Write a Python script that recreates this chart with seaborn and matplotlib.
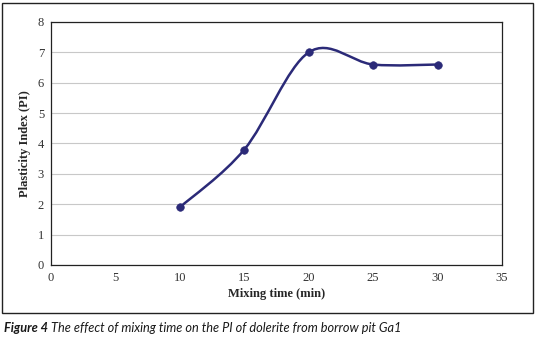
import numpy as np
import pandas as pd
import seaborn as sns
import matplotlib.pyplot as plt
from matplotlib.path import Path
from matplotlib.patches import PathPatch, Rectangle

mixing_time = [10, 15, 20, 25, 30]
plasticity_index = [1.9, 3.8, 7.0, 6.6, 6.6]
x_ticks = [0, 5, 10, 15, 20, 25, 30, 35]
y_ticks = [0, 1, 2, 3, 4, 5, 6, 7, 8]

navy = "#2b2a78"

sns.set_style("white")
plt.rcParams["font.family"] = ["Liberation Serif", "DejaVu Serif"]

df = pd.DataFrame({"time": mixing_time, "pi": plasticity_index})

fig = plt.figure(figsize=(5.35, 3.41), dpi=100)
ax = fig.add_axes([0.0953, 0.2229, 0.8430, 0.7126])

# Excel-style smoothed line: cubic Bezier segments through the data points
pts = df[["time", "pi"]].to_numpy(dtype=float)
verts = [pts[0]]
codes = [Path.MOVETO]
for i in range(len(pts) - 1):
    p_prev = pts[i - 1] if i > 0 else pts[i]
    p_next2 = pts[i + 2] if i + 2 < len(pts) else pts[i + 1]
    c1 = pts[i] + (pts[i + 1] - p_prev) / 6
    c2 = pts[i + 1] - (p_next2 - pts[i]) / 6
    verts += [c1, c2, pts[i + 1]]
    codes += [Path.CURVE4] * 3
ax.add_patch(PathPatch(Path(verts, codes), facecolor="none", edgecolor=navy,
                       lw=1.8, zorder=3))

sns.scatterplot(data=df, x="time", y="pi", ax=ax, color=navy, s=30,
                edgecolor=navy, zorder=4, legend=False)

ax.set_xlim(0, 35)
ax.set_ylim(0, 8)
ax.set_xticks(x_ticks)
ax.set_yticks(y_ticks)
ax.yaxis.grid(True, color="#c8c8c8", lw=0.8)
ax.set_axisbelow(True)
for s in ax.spines.values():
    s.set_color("#222222")
    s.set_linewidth(0.9)
ax.tick_params(axis="both", direction="out", length=3, width=0.8,
               labelsize=9, colors="#222222", labelcolor="#333333", pad=2)
ax.set_xlabel("Mixing time (min)", fontsize=9, fontweight="bold", labelpad=3)
ax.set_ylabel("Plasticity Index (PI)", fontsize=9, fontweight="bold", labelpad=5)

fig.patches.append(Rectangle((0.004, 0.082), 0.992, 0.909, transform=fig.transFigure,
                             fill=False, edgecolor="#222222", lw=1.0))

cap_font = ["Lato", "DejaVu Sans"]
t1 = fig.text(0.008, 0.038, "Figure 4", fontsize=9.2, fontweight="bold",
              style="italic", family=cap_font, color="#1a1a1a", va="center")
fig.canvas.draw()
bb = t1.get_window_extent().transformed(fig.transFigure.inverted())
fig.text(bb.x1 + 0.005, 0.038, "The effect of mixing time on the PI of dolerite from borrow pit Ga1",
         fontsize=9.2, style="italic", family=cap_font, color="#1a1a1a", va="center")

fig.savefig("out.png", dpi=100)
